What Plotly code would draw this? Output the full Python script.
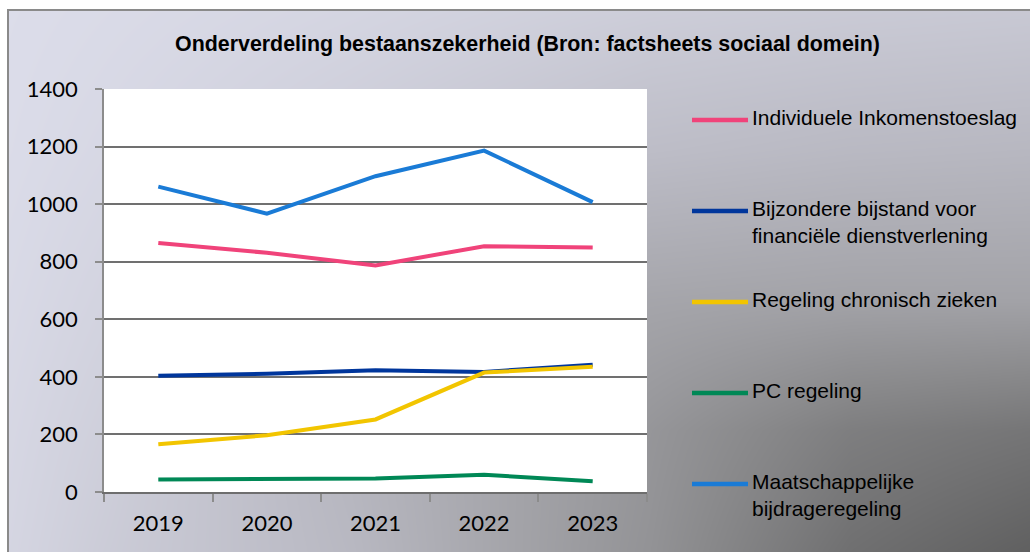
import plotly.graph_objects as go

# ---------------- data ----------------
years = ["2019", "2020", "2021", "2022", "2023"]
series_names = [
    "Individuele Inkomenstoeslag",
    "Bijzondere bijstand voor<br>financiële dienstverlening",
    "Regeling chronisch zieken",
    "PC regeling",
    "Maatschappelijke<br>bijdrageregeling",
]
individuele = [865, 831, 787, 854, 849]
bijzondere = [404, 411, 423, 417, 442]
chronisch = [166, 197, 252, 415, 435]
pc_regeling = [43, 45, 47, 60, 37]
maatschappelijke = [1061, 967, 1097, 1186, 1007]
series_values = [individuele, bijzondere, chronisch, pc_regeling, maatschappelijke]
series_colors = ["#f0437a", "#00369c", "#f2c500", "#008856", "#1a7bd6"]
y_ticks = [0, 200, 400, 600, 800, 1000, 1200, 1400]
title_text = "<b>Onderverdeling bestaanszekerheid (Bron: factsheets sociaal domein)</b>"

# ---------------- styling helpers ----------------
W, H = 1030, 552
FRAME_L, FRAME_T = 8, 10
PLOT_L, PLOT_R, PLOT_T, PLOT_B = 104, 647, 89, 492

def px_x(v):
    return v / W

def px_y(v):
    return 1 - v / H

# background shading grid (grey level) for the chart-area gradient
bg_x = [0, 100, 350, 650, 850, 1060]
bg_y = [0, 150, 300, 430, 580]
bg_shade = [
    [221, 219, 214, 207, 204, 202],
    [220, 216, 205, 190, 186, 184],
    [218, 212, 195, 166, 163, 163],
    [216, 208, 182, 150, 126, 116],
    [214, 204, 186, 146, 108, 88],
]
bg_scale = [
    [0.0, "rgb(88,88,88)"],
    [0.376, "rgb(138,138,140)"],
    [0.569, "rgb(163,163,168)"],
    [0.76, "rgb(188,188,198)"],
    [1.0, "rgb(220,221,234)"],
]

fig = go.Figure()

# gradient background (own hidden axes spanning the chart frame)
fig.add_trace(go.Heatmap(
    x=bg_x, y=bg_y, z=bg_shade, zsmooth="best", colorscale=bg_scale,
    zmin=88, zmax=221, showscale=False, hoverinfo="skip",
    xaxis="x", yaxis="y",
))

for name, vals, col in zip(series_names, series_values, series_colors):
    fig.add_trace(go.Scatter(
        x=years, y=vals, mode="lines", name=name.replace("<br>", " "),
        line=dict(color=col, width=4), showlegend=False,
        xaxis="x2", yaxis="y2",
    ))

# plot-area white background, below grid
fig.add_shape(type="rect", xref="x2", yref="y2", x0=-0.5, x1=len(years) - 0.5,
              y0=y_ticks[0], y1=y_ticks[-1], fillcolor="white", line=dict(width=0),
              layer="below")

# frame border (left and top edges; right/bottom are outside the picture)
fig.add_shape(type="line", xref="paper", yref="paper",
              x0=px_x(FRAME_L), x1=px_x(FRAME_L), y0=0, y1=px_y(FRAME_T - 1),
              line=dict(color="#8a8a8a", width=2), layer="above")
fig.add_shape(type="line", xref="paper", yref="paper",
              x0=px_x(FRAME_L - 1), x1=1, y0=px_y(FRAME_T), y1=px_y(FRAME_T),
              line=dict(color="#8a8a8a", width=2), layer="above")

# title
fig.add_annotation(text=title_text, xref="paper", yref="paper",
                   x=px_x(527), y=px_y(44), xanchor="center", yanchor="middle",
                   showarrow=False,
                   font=dict(family="Liberation Sans, Arial", size=21.4, color="black"))

# manual legend
leg_y = [120, 211, 302, 393, 484]
for name, col, ly in zip(series_names, series_colors, leg_y):
    fig.add_shape(type="line", xref="paper", yref="paper",
                  x0=px_x(692), x1=px_x(748), y0=px_y(ly), y1=px_y(ly),
                  line=dict(color=col, width=4.5), layer="above")
    fig.add_annotation(text=name, xref="paper", yref="paper",
                       x=px_x(751), y=px_y(ly - 15), xanchor="left", yanchor="top",
                       align="left", showarrow=False, borderpad=0,
                       font=dict(family="Liberation Sans, Arial", size=21, color="black"))

fig.update_layout(
    width=W, height=H,
    margin=dict(l=0, r=0, t=0, b=0, autoexpand=False),
    paper_bgcolor="white",
    plot_bgcolor="rgba(0,0,0,0)",
    showlegend=False,
    xaxis=dict(domain=[px_x(FRAME_L), 1], range=[FRAME_L, W], visible=False, fixedrange=True),
    yaxis=dict(domain=[0, px_y(FRAME_T)], range=[H, FRAME_T], visible=False, fixedrange=True),
    xaxis2=dict(
        domain=[px_x(PLOT_L), px_x(PLOT_R)], anchor="y2", type="category",
        range=[-0.5, len(years) - 0.5], tickson="boundaries",
        ticks="outside", ticklen=8, tickcolor="#8c8c8c", tickwidth=1.5,
        showline=True, linecolor="#6e6e6e", linewidth=1.5, showgrid=False,
        tickfont=dict(family="Lato", size=22, color="black"), ticklabelstandoff=11,
    ),
    yaxis2=dict(
        domain=[px_y(PLOT_B), px_y(PLOT_T)], anchor="x2",
        range=[y_ticks[0], y_ticks[-1]], tickvals=y_ticks,
        ticks="outside", ticklen=7, tickcolor="#8c8c8c", tickwidth=1.5,
        showline=True, linecolor="#8c8c8c", linewidth=1.5,
        showgrid=True, gridcolor="#707070", gridwidth=1.5, zeroline=False,
        tickfont=dict(family="Lato", size=22, color="black"), ticklabelstandoff=13,
    ),
)

fig.write_html("out.html", config={"displayModeBar": False},
               post_script="document.body.style.margin='0';")
